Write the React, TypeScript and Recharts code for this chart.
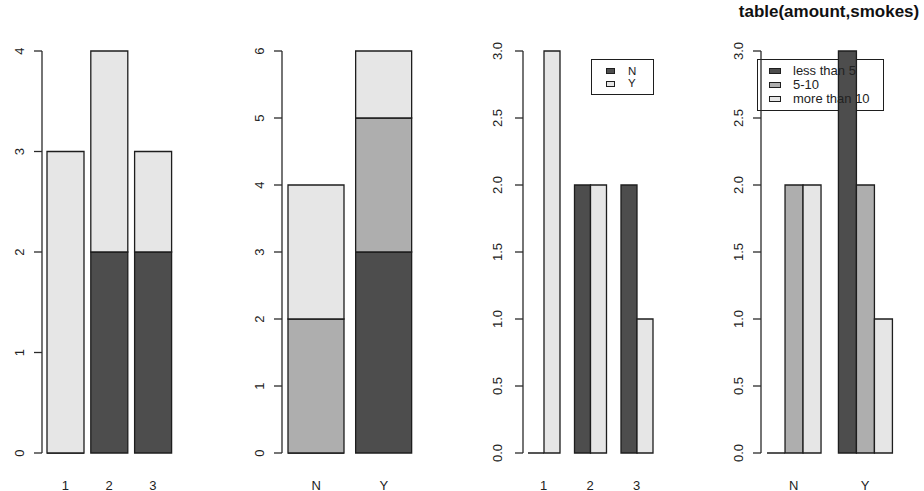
import { Bar, BarChart, Legend, XAxis, YAxis } from 'recharts';

const amountLevels = ['1', '2', '3'];
const smokesLevels = ['N', 'Y'];
const amountNames = ['less than 5', '5-10', 'more than 10'];

// table(smokes, amount): counts of non-smokers / smokers for each amount level
const smokesN = [0, 2, 2];
const smokesY = [3, 2, 1];

// table(amount, smokes): counts per amount level for N / Y
const lessThan5 = [0, 3];
const fiveToTen = [2, 2];
const moreThan10 = [2, 1];

const ticksByAmount = [0, 1, 2, 3, 4];
const ticksBySmokes = [0, 1, 2, 3, 4, 5, 6];
const ticksHalf = [0, 0.5, 1, 1.5, 2, 2.5, 3];

const DARK = '#4d4d4d';
const MID = '#aeaeae';
const LIGHT = '#e6e6e6';
const INK = '#1e1e1e';
const FONT = '"Liberation Sans", Arial, sans-serif';

const H = 491;
const PLOT_TOP = 51;
const PLOT_BOTTOM = 453;
const XAXIS_H = 30;
const YAXIS_W = 40;

const byAmount = amountLevels.map((name, i) => ({ name, N: smokesN[i], Y: smokesY[i] }));
const bySmokes = smokesLevels.map((name, i) => ({
  name,
  less: lessThan5[i],
  mid: fiveToTen[i],
  more: moreThan10[i],
}));

const smokesSeries = [
  { key: 'N', name: 'N', fill: DARK },
  { key: 'Y', name: 'Y', fill: LIGHT },
];
const amountSeries = [
  { key: 'less', name: amountNames[0], fill: DARK },
  { key: 'mid', name: amountNames[1], fill: MID },
  { key: 'more', name: amountNames[2], fill: LIGHT },
];

// R-style bar: filled rect with a dark outline, still visible as a line when the count is 0
const outlinedBar = (props: any) => {
  const { x, y, width, height, fill } = props;
  if (x == null || y == null) return <g />;
  return (
    <path
      d={`M${x},${y}h${width}v${height}h${-width}Z`}
      fill={fill}
      stroke={INK}
      strokeWidth={1.3}
    />
  );
};

interface LegendBox {
  left: number;
  top: number;
  width: number;
  height: number;
  swatchLeft: number;
  swatchW: number;
  textLeft: number;
  firstRow: number;
  rowStep: number;
  fontSize: number;
}

interface PanelProps {
  left: number;
  width: number;
  axisX: number;
  bandStart: number;
  bandEnd: number;
  data: any[];
  ticks: number[];
  decimals: number;
  labelOffset: number;
  gap: number;
  stacked: boolean;
  series: { key: string; name: string; fill: string }[];
  legend?: LegendBox;
}

function Panel({ left, width, axisX, bandStart, bandEnd, data, ticks, decimals, labelOffset, gap, stacked, series, legend }: PanelProps) {
  const labelX = axisX - left - labelOffset;
  const yMax = ticks[ticks.length - 1];

  // swatches and names only; the frame sits underneath the bars
  const renderLegend = () => {
    if (!legend) return null;
    return (
      <div
        style={{
          position: 'relative',
          width: legend.width,
          height: legend.height,
          fontFamily: FONT,
          fontSize: legend.fontSize,
          color: '#222',
        }}
      >
        {series.map((s, i) => {
          const cy = legend.firstRow + i * legend.rowStep;
          return (
            <div key={s.key}>
              <div
                style={{
                  position: 'absolute',
                  left: legend.swatchLeft,
                  top: cy - 3,
                  width: legend.swatchW,
                  height: 6,
                  background: s.fill,
                  border: `1px solid ${INK}`,
                  boxSizing: 'border-box',
                }}
              />
              <div
                style={{
                  position: 'absolute',
                  left: legend.textLeft,
                  top: cy - legend.rowStep / 2,
                  height: legend.rowStep,
                  lineHeight: `${legend.rowStep}px`,
                  whiteSpace: 'nowrap',
                }}
              >
                {s.name}
              </div>
            </div>
          );
        })}
      </div>
    );
  };

  return (
    <div style={{ position: 'absolute', left, top: 0, width, height: H }}>
      {legend && (
        <div
          style={{
            position: 'absolute',
            left: legend.left,
            top: legend.top,
            width: legend.width,
            height: legend.height,
            border: `1.3px solid ${INK}`,
            boxSizing: 'border-box',
          }}
        />
      )}
      <div style={{ position: 'absolute', left: 0, top: 0 }}>
        <BarChart
          width={width}
          height={H}
          data={data}
          margin={{
            top: PLOT_TOP,
            bottom: H - PLOT_BOTTOM - XAXIS_H,
            left: axisX - left - YAXIS_W,
            right: left + width - bandEnd,
          }}
          barCategoryGap={gap}
          barGap={0}
        >
          <XAxis
            dataKey="name"
            height={XAXIS_H}
            axisLine={false}
            tickLine={false}
            interval={0}
            padding={{ left: bandStart - axisX, right: 0 }}
            tick={(p: any) => (
              <text
                x={p.x}
                y={PLOT_BOTTOM + 32}
                textAnchor="middle"
                dominantBaseline="central"
                fontFamily={FONT}
                fontSize={13}
                fill="#222"
              >
                {p.payload.value}
              </text>
            )}
          />
          <YAxis
            width={YAXIS_W}
            domain={[0, yMax]}
            ticks={ticks}
            interval={0}
            allowDecimals
            stroke="#2a2a2a"
            axisLine={{ stroke: '#2a2a2a', strokeWidth: 1.3 }}
            tickLine={{ stroke: '#2a2a2a', strokeWidth: 1.3 }}
            tickSize={8}
            tick={(p: any) => (
              <text
                x={labelX}
                y={p.y}
                transform={`rotate(-90 ${labelX} ${p.y})`}
                textAnchor="middle"
                dominantBaseline="central"
                fontFamily={FONT}
                fontSize={13}
                fill="#222"
              >
                {Number(p.payload.value).toFixed(decimals)}
              </text>
            )}
          />
          {legend && (
            <Legend
              verticalAlign="middle"
              align="center"
              content={renderLegend}
              wrapperStyle={{ position: 'absolute', left: legend.left, top: legend.top, width: legend.width, height: legend.height }}
            />
          )}
          {series.map((s) => (
            <Bar
              key={s.key}
              dataKey={s.key}
              name={s.name}
              fill={s.fill}
              stackId={stacked ? 'stack' : undefined}
              shape={outlinedBar}
              isAnimationActive={false}
            />
          ))}
        </BarChart>
      </div>
    </div>
  );
}

export default function App() {
  return (
    <div
      style={{
        position: 'absolute',
        left: 0,
        top: 0,
        width: 924,
        height: H,
        background: '#fff',
        overflow: 'hidden',
        fontFamily: FONT,
      }}
    >
      <Panel
        left={0}
        width={230}
        axisX={42}
        bandStart={43.35}
        bandEnd={174.75}
        data={byAmount}
        ticks={ticksByAmount}
        decimals={0}
        labelOffset={23}
        gap={3.65}
        stacked
        series={smokesSeries}
      />
      <Panel
        left={230}
        width={230}
        axisX={282}
        bandStart={282.4}
        bandEnd={417.7}
        data={bySmokes}
        ticks={ticksBySmokes}
        decimals={0}
        labelOffset={23}
        gap={5.6}
        stacked
        series={amountSeries}
      />
      <Panel
        left={460}
        width={230}
        axisX={523}
        bandStart={520.25}
        bandEnd={659.75}
        data={byAmount}
        ticks={ticksHalf}
        decimals={1}
        labelOffset={26}
        gap={7.75}
        stacked={false}
        series={smokesSeries}
        legend={{
          left: 131,
          top: 59,
          width: 63,
          height: 36,
          swatchLeft: 15,
          swatchW: 9,
          textLeft: 37,
          firstRow: 12,
          rowStep: 12.5,
          fontSize: 11.5,
        }}
      />
      <Panel
        left={690}
        width={234}
        axisX={761}
        bandStart={758.1}
        bandEnd={900.9}
        data={bySmokes}
        ticks={ticksHalf}
        decimals={1}
        labelOffset={23}
        gap={8.93}
        stacked={false}
        series={amountSeries}
        legend={{
          left: 67,
          top: 59,
          width: 127,
          height: 52,
          swatchLeft: 12,
          swatchW: 12,
          textLeft: 36,
          firstRow: 12,
          rowStep: 14,
          fontSize: 13,
        }}
      />
      <div
        style={{
          position: 'absolute',
          left: 829,
          top: 2,
          transform: 'translateX(-50%)',
          fontFamily: FONT,
          fontWeight: 'bold',
          fontSize: 17,
          lineHeight: '20px',
          whiteSpace: 'nowrap',
          color: '#111',
        }}
      >
        table(amount,smokes)
      </div>
    </div>
  );
}
